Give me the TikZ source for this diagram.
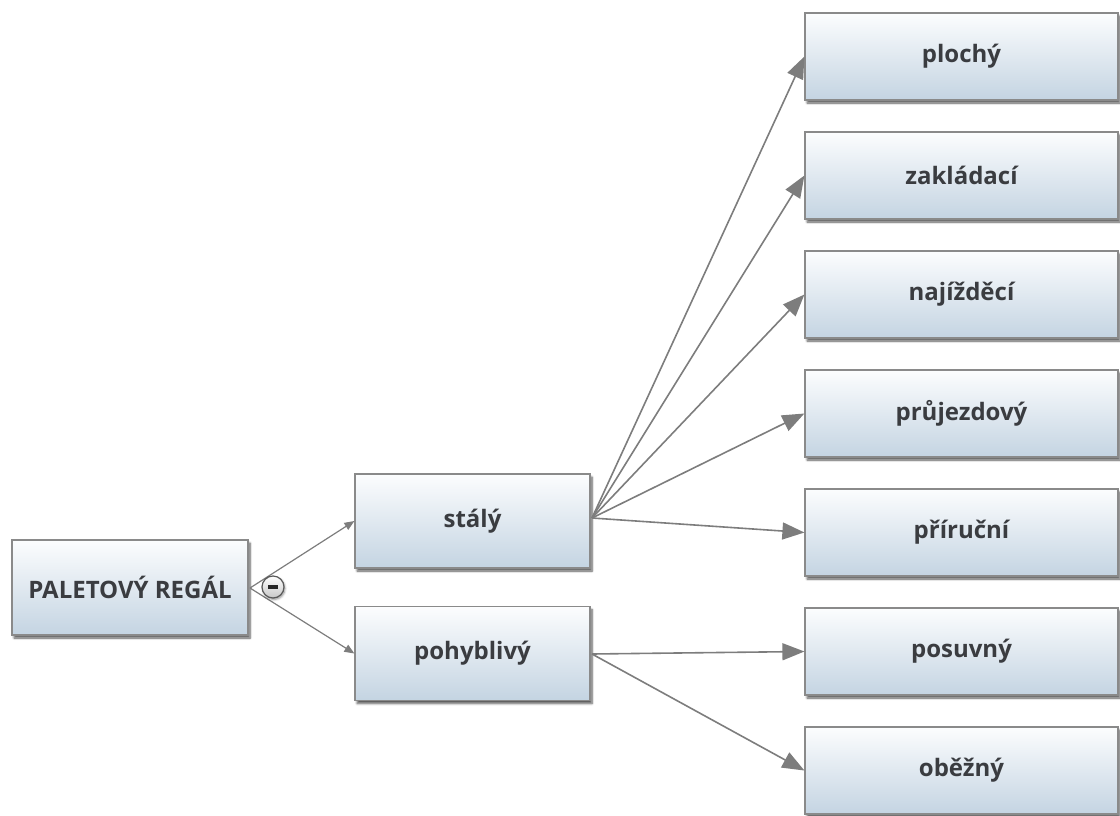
\documentclass[tikz,border=0pt]{standalone}
\usepackage{fontspec}
\setmainfont{Open Sans}
\usetikzlibrary{arrows.meta,shadows.blur,positioning}
\definecolor{boxtop}{RGB}{252,253,254}
\definecolor{boxbot}{RGB}{196,212,226}
\definecolor{boxline}{RGB}{138,138,138}
\definecolor{txt}{RGB}{58,60,64}
\definecolor{conn}{RGB}{125,125,125}
\tikzset{
  topic/.style={draw=boxline, line width=1.2pt, top color=boxtop, bottom color=boxbot,
    blur shadow={shadow xshift=2pt, shadow yshift=-3pt, shadow blur steps=6, shadow opacity=65},
    text=txt, font=\bfseries\fontsize{24}{28}\selectfont, inner sep=0pt},
  rootbox/.style={topic, minimum width=236pt, minimum height=95pt},
  midbox/.style={topic, minimum width=235pt, minimum height=94pt},
  leafbox/.style={topic, minimum width=313pt, minimum height=87pt},
  bigarrow/.style={draw=conn, line width=1.6pt, -{Triangle[length=22pt,width=17pt]}},
  smallarrow/.style={draw=conn, line width=1.2pt, -{Triangle[length=10pt,width=8pt]}},
  collapser/.style={circle, draw=black!65, line width=1.2pt, inner sep=0pt, minimum size=22pt,
    top color=white, bottom color=black!22,
    blur shadow={shadow xshift=1pt, shadow yshift=-1.5pt, shadow blur steps=4, shadow opacity=45}}
}
\begin{document}
\begin{tikzpicture}[x=1pt,y=1pt]
\useasboundingbox (0,0) rectangle (1120,-815);

% main topic and its two branches
\node[rootbox] (root) at (130,-587.5) {PALETOVÝ REGÁL};
\node[midbox] (stály) at (472.5,-521) {stálý};
\node[midbox] (pohyb) at (472.5,-653.5) {pohyblivý};

% leaf topics
\node[leafbox] (plochy) at (961.5,-56.5) {plochý};
\node[leafbox] (zaklad) at (961.5,-175.5) {zakládací};
\node[leafbox] (najizd) at (961.5,-294.5) {najížděcí};
\node[leafbox] (prujezd) at (961.5,-413.5) {průjezdový};
\node[leafbox] (prirucni) at (961.5,-532.5) {příruční};
\node[leafbox] (posuvny) at (961.5,-651.5) {posuvný};
\node[leafbox] (obezny) at (961.5,-770.5) {oběžný};

% fan-out points
\coordinate (rootout) at (250,-588);
\coordinate (stalyout) at (592,-518);
\coordinate (pohybout) at (592,-654);

\draw[smallarrow] (rootout) -- (stály.west);
\draw[smallarrow] (rootout) -- (pohyb.west);

\draw[bigarrow] (stalyout) -- (plochy.west);
\draw[bigarrow] (stalyout) -- (zaklad.west);
\draw[bigarrow] (stalyout) -- (najizd.west);
\draw[bigarrow] (stalyout) -- (prujezd.west);
\draw[bigarrow] (stalyout) -- (prirucni.west);

\draw[bigarrow] (pohybout) -- (posuvny.west);
\draw[bigarrow] (pohybout) -- (obezny.west);

% collapse button
\node[collapser] (minus) at (273,-587) {};
\draw[black!85, line width=3.5pt] ([xshift=-5pt]minus.center) -- ([xshift=5pt]minus.center);
\end{tikzpicture}
\end{document}
